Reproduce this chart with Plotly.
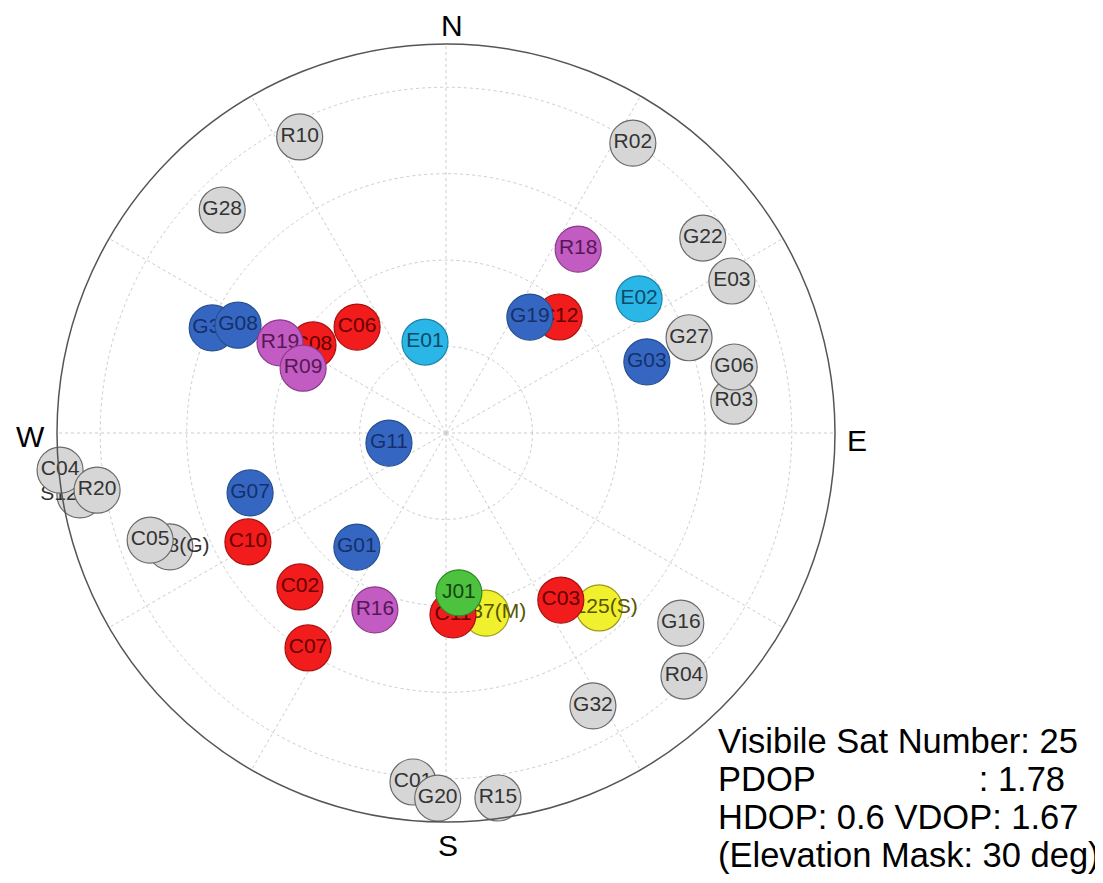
import plotly.graph_objects as go

# Satellites in drawing order (later ones drawn on top)
sat_names = ["R10", "G28", "R02", "R18", "G22", "E03", "E02", "C12", "G19",
             "G27", "G03", "R03", "G06", "G30", "G08", "C08", "R19", "R09",
             "C06", "E01", "G11", "S127(G)", "C04", "R20", "S128(G)", "C05",
             "G07", "C10", "G01", "C02", "R16", "C07", "S137(M)", "C11", "J01",
             "S125(S)", "C03", "G16", "R04", "G32", "R15", "C01", "G20"]
azimuth_deg = [333.7, 314.9, 32.8, 35.7, 52.8, 62.0, 55.2, 44.3, 35.9,
               68.6, 70.5, 83.7, 77.1, 294.2, 297.4, 303.5, 298.5, 294.4,
               320.0, 347.0, 260.0, 260.4, 264.5, 260.7, 247.6, 250.1,
               253.0, 241.2, 218.0, 223.5, 201.9, 212.7, 167.5, 177.8, 175.4,
               138.8, 145.5, 129.0, 135.6, 151.7, 171.9, 185.4, 181.3]
elevation_deg = [13.6, 16.9, 10.2, 37.6, 15.4, 15.1, 35.6, 52.5, 56.9,
                 29.6, 40.7, 23.0, 21.6, 30.7, 35.8, 53.1, 46.3, 53.7,
                 58.0, 68.4, 76.6, 4.1, 0.3, 8.2, 20.9, 17.2,
                 42.6, 37.7, 56.5, 40.9, 45.9, 30.9, 47.3, 47.9, 52.9,
                 36.2, 43.1, 20.1, 11.3, 18.3, 4.7, 8.9, 5.5]
sat_group = ["off", "off", "off", "GLO", "off", "off", "GAL", "BDS", "GPS",
             "off", "GPS", "off", "off", "GPS", "GPS", "BDS", "GLO", "GLO",
             "BDS", "GAL", "GPS", "off", "off", "off", "off", "off",
             "GPS", "BDS", "GPS", "BDS", "GLO", "BDS", "SBAS", "BDS", "QZS",
             "SBAS", "BDS", "off", "off", "off", "off", "off", "off"]

group_fill = {"off": "#d6d6d6", "GPS": "#3567c2", "GLO": "#c25cc2",
              "GAL": "#2ab6e6", "BDS": "#f21c1c", "QZS": "#4cc23e", "SBAS": "#f0f02e"}
group_line = {"off": "#6a6a6a", "GPS": "#26508f", "GLO": "#8c3a8c",
              "GAL": "#1c84a8", "BDS": "#a81010", "QZS": "#2f8a26", "SBAS": "#9a9a1a"}
group_text = {"off": "#333333", "GPS": "#15306a", "GLO": "#551855",
              "GAL": "#0c4a68", "BDS": "#660000", "QZS": "#174412", "SBAS": "#555500"}

compass_labels = ["N", "E", "S", "W"]
info_lines = ["Visibile Sat Number: 25",
              "PDOP" + "\u00a0" * 17 + ": 1.78",
              "HDOP: 0.6 VDOP: 1.67",
              "(Elevation Mask: 30 deg)"]

fig = go.Figure()
for name, az, el, grp in zip(sat_names, azimuth_deg, elevation_deg, sat_group):
    fig.add_trace(go.Scatterpolar(
        r=[90 - el], theta=[az], mode="markers+text", text=[name],
        textposition="middle center",
        textfont=dict(family="Liberation Sans, Arial, sans-serif", size=21,
                      color=group_text[grp]),
        marker=dict(size=46, color=group_fill[grp],
                    line=dict(color=group_line[grp], width=1.2)),
        showlegend=False, hoverinfo="text", cliponaxis=False))

# page body has an 8px margin: work in page pixels minus 8
OFF = 8
W, H = 1103 - OFF, 883 - OFF
cx, cy, R = 446 - OFF, 433 - OFF, 389
fig.update_layout(
    width=W, height=H,
    margin=dict(l=0, r=0, t=0, b=0),
    paper_bgcolor="white", plot_bgcolor="white",
    polar=dict(
        domain=dict(x=[(cx - R) / W, (cx + R) / W], y=[1 - (cy + R) / H, 1 - (cy - R) / H]),
        bgcolor="white",
        angularaxis=dict(direction="clockwise", rotation=90, dtick=30,
                         showticklabels=False, ticks="",
                         gridcolor="#cccccc", griddash="dot", gridwidth=1,
                         linecolor="#555555", linewidth=1.5, showline=True),
        radialaxis=dict(range=[0, 90], tickvals=[20, 40, 60, 80],
                        showticklabels=False, ticks="", showline=False,
                        gridcolor="#cccccc", griddash="dot", gridwidth=1),
    ),
)

compass_pos = {"N": (452, 25), "E": (857, 440), "S": (448, 845), "W": (30, 437)}
for lab in compass_labels:
    px, py = compass_pos[lab]
    fig.add_annotation(x=(px - OFF) / W, y=1 - (py - OFF) / H, xref="paper", yref="paper",
                       text=lab, showarrow=False, xanchor="center", yanchor="middle",
                       font=dict(family="Liberation Sans, Arial, sans-serif", size=30, color="black"))

line_y = [741, 779, 817, 855]
for txt, py in zip(info_lines, line_y):
    fig.add_annotation(x=(716 - OFF) / W, y=1 - (py - OFF) / H, xref="paper", yref="paper",
                       text=txt, showarrow=False, xanchor="left", yanchor="middle",
                       font=dict(family="Liberation Sans, Arial, sans-serif", size=34.5, color="black"))

fig.write_html("out.html")
